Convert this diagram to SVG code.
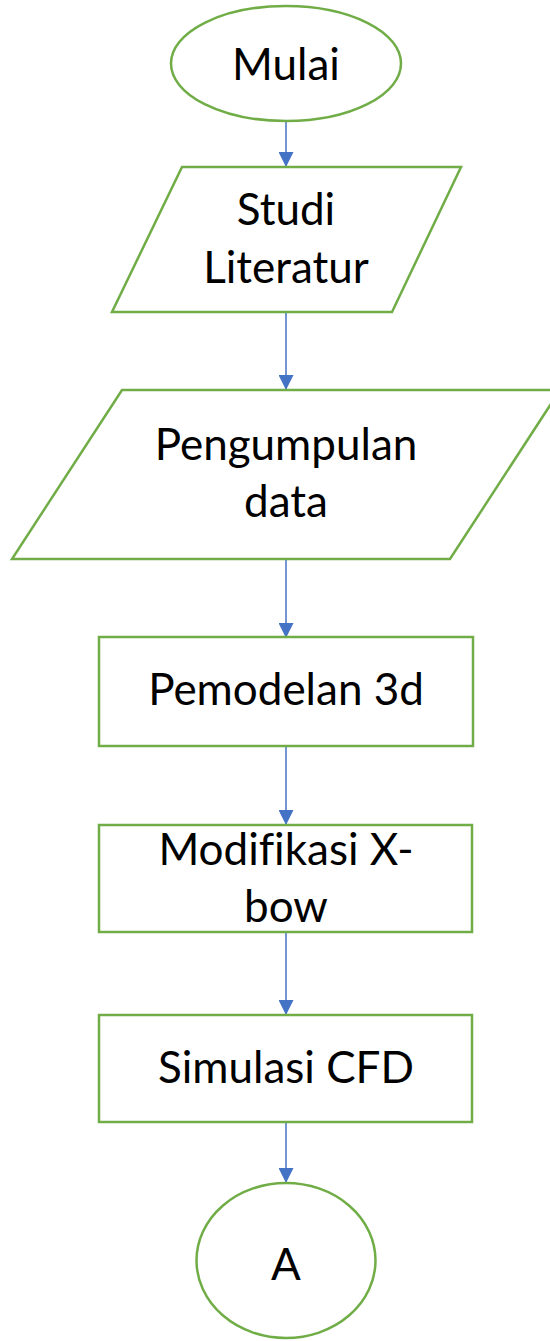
<svg xmlns="http://www.w3.org/2000/svg" width="550" height="1341" viewBox="0 0 550 1341">
  <style>
    .shape { fill: #ffffff; stroke: #70AD47; stroke-width: 2.5; }
    .lbl { font-family: Lato, "Liberation Sans", sans-serif; font-size: 44px; fill: #000000; text-anchor: middle; font-variant-ligatures: none; }
    .conn { stroke: #4472C4; stroke-width: 1.5; fill: none; marker-end: url(#arrow); }
  </style>
  <defs>
    <marker id="arrow" viewBox="0 0 10 10" refX="10" refY="5" markerWidth="15" markerHeight="15" markerUnits="userSpaceOnUse" orient="auto">
      <path d="M0,0 L10,5 L0,10 Z" fill="#4472C4"/>
    </marker>
  </defs>
  <rect x="0" y="0" width="550" height="1341" fill="#ffffff"/>
  <g id="connectors">
    <line class="conn" x1="286" y1="121" x2="286" y2="167"/>
    <line class="conn" x1="286" y1="312" x2="286" y2="390"/>
    <line class="conn" x1="286" y1="559" x2="286" y2="638"/>
    <line class="conn" x1="286" y1="746" x2="286" y2="825"/>
    <line class="conn" x1="286" y1="932" x2="286" y2="1015"/>
    <line class="conn" x1="286" y1="1122" x2="286" y2="1183"/>
  </g>
  <g id="mulai">
    <ellipse class="shape" cx="286" cy="63.5" rx="115" ry="57.5"/>
    <text class="lbl" x="286" y="80">Mulai</text>
  </g>
  <g id="studi-literatur">
    <polygon class="shape" points="182,167 461,167 392,312 112,312"/>
    <text class="lbl" x="286" y="225">Studi</text>
    <text class="lbl" x="286" y="283">Literatur</text>
  </g>
  <g id="pengumpulan-data">
    <polygon class="shape" points="122,390 560,390 450,559 12,559"/>
    <text class="lbl" x="286" y="460">Pengumpulan</text>
    <text class="lbl" x="286" y="517">data</text>
  </g>
  <g id="pemodelan-3d">
    <rect class="shape" x="99" y="637" width="374" height="109"/>
    <text class="lbl" x="286" y="705">Pemodelan 3d</text>
  </g>
  <g id="modifikasi-xbow">
    <rect class="shape" x="99" y="825" width="373" height="107"/>
    <text class="lbl" x="286" y="865">Modifikasi X-</text>
    <text class="lbl" x="286" y="922">bow</text>
  </g>
  <g id="simulasi-cfd">
    <rect class="shape" x="99" y="1015" width="373" height="107"/>
    <text class="lbl" x="286" y="1083">Simulasi CFD</text>
  </g>
  <g id="a">
    <ellipse class="shape" cx="286" cy="1260.5" rx="89.5" ry="77.5"/>
    <text class="lbl" x="286" y="1280">A</text>
  </g>
</svg>
